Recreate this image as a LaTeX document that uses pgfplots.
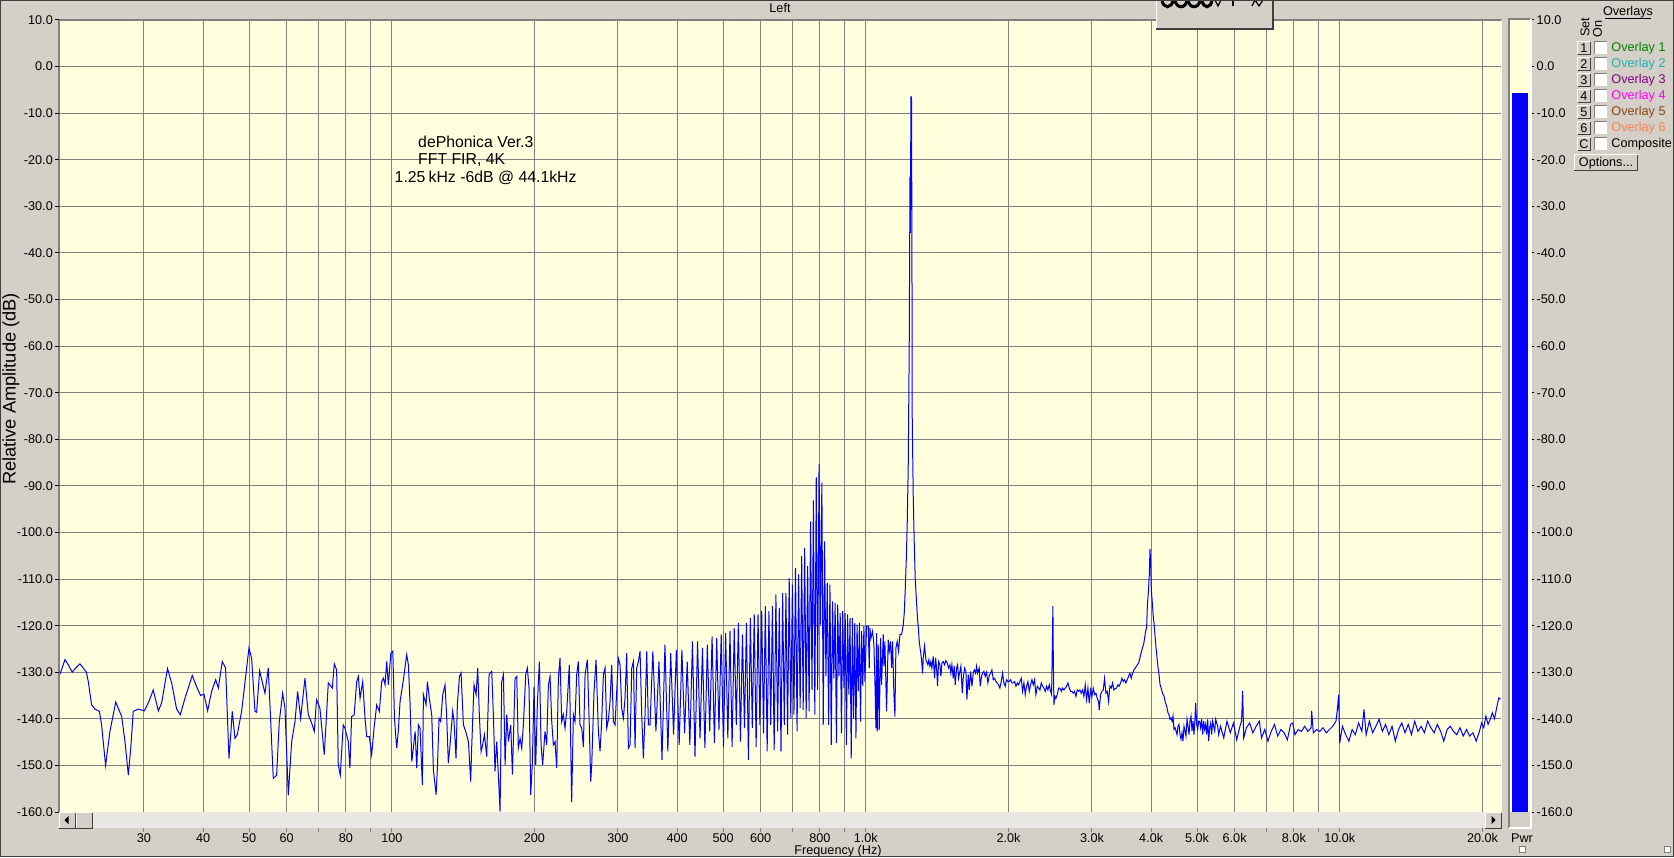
\documentclass[border=0pt]{standalone}
\usepackage{pgfplots}
\pgfplotsset{compat=1.18}
\usepackage{fontspec}
\setmainfont{Liberation Sans}

\definecolor{winbg}{HTML}{D4D0C8}
\definecolor{plotbg}{HTML}{FFFFDD}
\definecolor{gridc}{HTML}{808080}
\definecolor{scrollc}{HTML}{E9E7E3}
\definecolor{shadow}{HTML}{404040}
\definecolor{ov1}{HTML}{008000}
\definecolor{ov2}{HTML}{20B0B0}
\definecolor{ov3}{HTML}{800080}
\definecolor{ov4}{HTML}{FF00FF}
\definecolor{ov5}{HTML}{8B4513}
\definecolor{ov6}{HTML}{FF8050}

\newcommand{\ui}{\fontsize{3.6}{4.3}\selectfont}
\newcommand{\notefont}{\fontsize{4.5}{5.4}\selectfont}
% raised button: x1, ybottom, x2, ytop
\newcommand{\rbtn}[4]{%
  \fill[winbg] (#1,#2) rectangle (#3,#4);
  \draw[white,line width=0.1mm] (#1,#2) -- (#1,#4) -- (#3,#4);
  \draw[shadow,line width=0.1mm] (#3,#4) -- (#3,#2) -- (#1,#2);}

\begin{document}
\begin{tikzpicture}[x=0.1mm,y=0.1mm]
\useasboundingbox (0,0) rectangle (1674,857);
\fill[winbg] (0,0) rectangle (1674,857);

% spectrum
\begin{axis}[
    at={(5.85mm,4.5mm)}, anchor=south west,
    width=144.3mm, height=79.2mm, scale only axis,
    xmode=log, xmin=19.81, xmax=21936,
    ymin=-160, ymax=10,
    axis background/.style={fill=plotbg},
    axis line style={draw=none},
    tick style={draw=none},
    xtick={30,40,50,60,80,100,200,300,400,500,600,800,1000,2000,3000,4000,5000,6000,8000,10000,20000},
    xticklabels={30,40,50,60,80,100,200,300,400,500,600,800,1.0k,2.0k,3.0k,4.0k,5.0k,6.0k,8.0k,10.0k,20.0k},
    minor xtick={70,90,700,900,7000,9000},
    ytick={-160,-150,...,10},
    yticklabels={-160.0,-150.0,-140.0,-130.0,-120.0,-110.0,-100.0,-90.0,-80.0,-70.0,-60.0,-50.0,-40.0,-30.0,-20.0,-10.0,0.0,10.0},
    grid=both,
    major grid style={gridc, line width=0.1mm},
    minor grid style={gridc, line width=0.1mm},
    xticklabel style={font=\ui, anchor=base, inner sep=0pt, yshift=-3mm},
    yticklabel style={font=\ui, anchor=east, inner sep=0pt, xshift=-0.5mm},
  ]
\addplot[blue, line width=0.1mm, mark=none] coordinates {
(19.85,-130.9)(20.05,-129.8)(20.44,-127.3)(20.77,-128.4)(21.18,-130.0)(21.52,-129.1)(21.98,-128.2)(22.33,-129.1)(22.68,-130.0)(22.89,-132.0)
(23.26,-137.0)(23.64,-137.9)(24.16,-138.4)(24.42,-141.3)(24.90,-150.0)(25.43,-142.7)(26.16,-136.4)(26.92,-139.5)(27.36,-144.9)(27.81,-152.1)
(28.17,-145.6)(28.48,-138.4)(29.19,-137.9)(30.05,-138.3)(30.64,-136.6)(31.39,-133.8)(32.17,-138.3)(32.69,-136.6)(33.64,-129.2)(34.32,-132.3)
(35.16,-137.9)(35.79,-139.1)(36.61,-135.6)(37.94,-130.7)(38.75,-133.1)(39.50,-135.0)(40.15,-134.7)(40.87,-138.3)(41.68,-134.1)(42.50,-131.6)
(43.05,-133.4)(43.89,-127.7)(44.61,-129.1)(45.34,-148.5)(45.78,-142.7)(46.07,-138.4)(46.68,-144.2)(47.21,-143.4)(48.21,-138.4)(49.40,-129.1)
(49.96,-124.8)(50.61,-127.0)(51.44,-138.4)(51.86,-138.6)(52.62,-129.7)(54.00,-134.5)(54.88,-129.1)(56.23,-152.8)(57.15,-152.1)(57.89,-140.6)
(58.85,-134.5)(59.51,-137.7)(60.49,-156.4)(61.48,-144.9)(62.48,-140.6)(63.29,-134.1)(64.22,-139.9)(65.59,-131.3)(66.66,-139.1)(67.75,-140.9)
(68.63,-142.7)(69.39,-135.9)(70.53,-137.7)(72.04,-147.7)(73.46,-132.3)(74.90,-133.4)(75.64,-128.2)(76.50,-129.5)(77.11,-149.9)(77.87,-152.1)
(79.00,-141.3)(79.65,-142.0)(80.95,-144.9)(81.58,-150.6)(82.27,-139.5)(83.27,-139.2)
(84.33,-132.0)(85.01,-130.9)(85.71,-135.6)(86.82,-132.0)(87.81,-139.9)(88.52,-143.8)(89.67,-143.8)(90.69,-147.7)(91.73,-142.0)(92.93,-137.0)
(94.14,-138.4)(95.21,-132.0)(95.99,-131.3)(96.77,-132.7)(97.55,-127.7)(98.35,-132.7)(99.53,-125.9)(100.5,-125.5)(101.3,-139.9)(102.4,-146.3)
(103.2,-142.7)(104.1,-136.3)(105.8,-131.6)(107.5,-126.2)(108.4,-128.4)(109.3,-137.0)(110.2,-149.2)(112.0,-142.7)(112.9,-150.6)(113.8,-141.3)
(114.7,-142.0)(116.0,-154.2)(116.6,-134.8)(118.1,-137.0)(118.9,-132.0)(120.0,-135.6)(121.4,-139.1)(122.4,-151.0)(124.0,-156.3)(124.8,-150.6)
(125.8,-139.9)(126.8,-140.6)(128.1,-134.8)(129.5,-132.7)(130.6,-139.9)(131.6,-149.5)(132.7,-145.6)(134.4,-138.4)(135.3,-140.6)(136.6,-148.5)
(137.5,-137.0)(138.9,-130.9)(140.0,-130.2)(141.6,-141.3)(143.2,-142.7)(145.1,-144.9)(146.7,-153.5)(147.4,-146.3)(149.1,-132.7)(150.6,-134.8)
(151.8,-129.1)(153.0,-139.1)(154.3,-147.0)(155.5,-145.6)(156.8,-143.4)(158.6,-148.1)(160.4,-130.5)(162.5,-129.8)(163.8,-139.1)(165.1,-151.3)
(166.5,-144.9)(167.8,-152.0)(169.2,-159.9)(170.6,-132.0)(172.0,-130.5)(173.4,-149.9)(174.8,-139.1)(176.2,-144.9)(178.2,-141.3)(179.7,-152.0)
(182.0,-131.3)(183.5,-130.9)(184.9,-146.3)(186.5,-144.2)(188.0,-146.3)(189.5,-141.3)(191.7,-130.5)(193.2,-129.1)(194.8,-133.4)(196.4,-156.3)
(198.0,-149.2)(199.6,-133.1)(201.2,-149.9)(202.8,-137.0)(204.8,-127.7)(206.5,-145.6)(208.1,-149.9)(210.5,-142.7)(212.2,-145.6)(214.0,-132.7)
(215.7,-130.9)(217.5,-140.6)(219.2,-145.6)(221.0,-144.9)(222.8,-150.6)(224.6,-131.3)(226.4,-127.0)(228.3,-140.6)(230.1,-139.1)(232.0,-142.0)
(233.9,-138.4)(236.9,-128.4)(239.6,-157.8)(241.6,-139.1)(243.5,-140.6)(245.5,-130.5)(247.5,-127.7)(249.5,-141.3)(251.6,-142.0)(253.6,-146.0)
(255.7,-130.5)(258.6,-127.3)(261.1,-142.0)(262.8,-153.5)(264.1,-149.9)(267.1,-134.1)(269.7,-127.3)(272.8,-142.7)(275.0,-147.0)(277.2,-140.6)
(279.5,-130.5)(281.8,-129.1)(284.1,-142.0)(286.4,-140.2)(288.7,-136.3)(291.0,-128.4)(293.4,-140.6)(295.8,-141.3)(298.2,-134.1)(300.6,-127.0)
(303.1,-128.4)(305.5,-137.7)(308.0,-139.9)(310.5,-135.6)(313.0,-125.9)(315.6,-146.3)(318.2,-145.6)(320.8,-129.1)(323.4,-127.7)(326.0,-146.3)
(328.6,-129.1)(331.3,-127.7)(334.0,-125.5)(336.7,-139.1)(339.4,-148.5)(342.2,-139.1)(345.0,-125.5)(347.8,-141.3)(350.6,-141.3)
(355.4,-125.5)(360.8,-142.7)(366.2,-127.7)(371.6,-148.8)(377.0,-124.1)(382.3,-147.0)(387.7,-125.9)(393.1,-143.4)(398.5,-125.2)(403.9,-145.6)
(409.3,-125.2)(414.7,-143.1)(420.0,-127.7)(425.4,-145.6)(430.8,-123.4)(436.2,-148.1)(441.6,-123.4)(447.0,-144.2)(452.3,-124.8)(457.7,-146.3)
(463.1,-124.1)(468.5,-142.7)(473.9,-122.3)(479.3,-145.2)(484.7,-122.7)(490.0,-142.4)(495.4,-121.9)(500.8,-146.0)(506.2,-121.6)(511.6,-144.2)
(517.0,-121.2)(522.3,-146.0)(527.7,-120.5)(533.1,-141.3)(538.5,-119.4)(543.9,-144.9)(549.3,-121.9)(554.7,-142.0)(560.0,-119.4)(565.4,-148.8)
(570.8,-118.4)(576.2,-142.0)(581.6,-117.6)(587.0,-146.0)(592.4,-117.6)(597.7,-141.3)(603.1,-116.9)(608.5,-143.1)(613.9,-115.8)(619.3,-147.0)
(624.7,-116.9)(630.1,-141.3)(635.4,-115.8)(640.8,-146.7)(646.2,-113.3)(651.6,-142.7)(657.0,-116.2)(662.4,-147.0)(667.7,-113.0)(673.1,-141.3)
(678.5,-113.0)(683.9,-143.4)(689.3,-109.8)(694.7,-139.9)(700.1,-111.2)(705.4,-139.1)(710.8,-107.6)(716.2,-142.7)(721.6,-109.0)(727.0,-137.7)
(732.4,-105.1)(737.8,-138.1)(743.1,-103.3)(748.5,-139.9)(753.9,-107.2)(759.3,-138.4)(764.7,-97.6)(770.1,-133.8)(775.4,-93.1)(780.8,-139.1)
(786.2,-88.2)(791.6,-133.8)(797.0,-85.4)(802.4,-119.8)(807.8,-89.3)(813.2,-141.3)(818.5,-101.9)(823.9,-130.9)(829.3,-110.8)(834.7,-141.3)
(840.1,-111.2)(845.5,-145.6)(850.9,-114.8)(856.2,-131.3)(861.6,-115.1)(867.0,-145.2)(872.4,-115.5)(877.8,-130.9)(883.1,-117.3)(888.5,-143.1)
(893.9,-116.9)(899.3,-133.4)(904.7,-117.3)(910.1,-145.6)(915.5,-117.6)(920.9,-134.8)(926.2,-118.4)(931.6,-148.5)(937.0,-118.4)(942.4,-139.9)
(947.8,-119.4)(953.2,-144.2)(958.5,-119.8)(963.9,-134.1)(969.3,-119.4)(974.7,-140.6)(980.1,-121.2)(985.5,-133.0)(990.8,-120.1)
(995.7,-132.0)(1003.8,-120.1)(1011.9,-120.1)(1016.9,-129.1)(1020.2,-120.5)(1025.2,-122.7)(1033.5,-121.2)(1040.2,-124.1)(1045.3,-132.0)(1050.4,-142.0)
(1053.7,-121.6)(1057.1,-142.7)(1062.2,-124.1)(1067.4,-142.4)(1074.4,-122.7)(1079.6,-132.7)(1088.4,-121.9)(1091.9,-128.7)(1097.2,-123.4)(1106.2,-138.4)
(1115.1,-123.0)(1120.6,-125.5)(1127.9,-123.4)(1133.4,-129.1)(1139.0,-123.4)(1146.3,-134.8)(1151.9,-139.5)(1157.4,-124.8)(1165.0,-123.4)(1172.7,-125.5)
(1180.2,-121.9)(1189.8,-121.9)
(1199.5,-119.9)(1205.3,-117.3)(1211.2,-112.2)(1217.1,-106.1)(1223.0,-97.9)(1228.9,-85.8)(1234.9,-59.9)(1239.5,-23.6)(1242.0,-35.7)(1245.0,-6.5)
(1248.5,-6.5)(1251.0,-35.7)(1253.1,-75.9)(1259.2,-92.3)(1265.3,-102.2)(1271.5,-110.0)(1279.8,-115.2)(1286.0,-118.6)(1292.3,-121.2)(1296.4,-123.4)
(1304.8,-125.6)(1311.2,-127.3)(1317.6,-130.3)(1321.9,-126.9)(1330.4,-124.3)(1339.1,-127.3)
(1343.4,-127.7)(1352.1,-128.4)(1358.7,-127.3)(1365.3,-128.7)(1372.0,-127.7)(1378.7,-129.1)(1387.6,-126.6)(1396.7,-131.3)(1403.5,-126.9)(1410.4,-129.1)
(1417.2,-133.0)(1424.2,-127.7)(1433.3,-128.4)(1440.3,-130.9)(1447.4,-128.0)(1456.7,-127.7)(1466.2,-128.4)(1475.7,-127.5)(1485.3,-128.0)(1494.9,-129.1)
(1504.7,-128.4)(1512.0,-130.2)(1519.4,-128.4)(1529.3,-131.3)(1536.7,-128.7)(1544.2,-132.7)(1554.3,-129.1)(1561.9,-128.4)(1569.5,-131.3)(1579.6,-129.8)
(1587.3,-128.7)(1597.6,-134.5)(1605.4,-131.3)(1615.9,-129.1)(1626.4,-129.8)(1634.3,-135.9)(1645.0,-130.5)(1653.0,-133.8)(1663.7,-129.8)(1674.6,-133.0)
(1685.4,-130.2)(1693.6,-129.5)(1704.6,-130.2)(1712.8,-128.7)(1721.2,-130.2)(1735.0,-129.1)(1743.6,-133.0)(1754.9,-130.9)(1763.5,-130.2)(1774.9,-129.8)
(1786.5,-130.9)(1798.1,-130.0)(1809.8,-132.3)(1821.6,-130.7)(1833.4,-130.2)(1845.3,-129.5)(1857.2,-131.6)(1869.3,-131.3)(1881.4,-132.0)(1893.6,-132.3)
(1905.9,-132.7)(1918.3,-133.4)(1930.9,-132.0)(1943.4,-130.2)(1956.0,-132.3)(1968.6,-133.0)(1981.4,-131.6)(1994.2,-132.0)(2007.3,-132.0)(2020.4,-131.6)
(2033.6,-132.3)(2046.8,-132.3)(2060.0,-132.0)(2073.5,-133.0)(2087.0,-132.3)(2100.5,-132.7)(2114.2,-132.0)(2127.9,-131.3)(2141.8,-134.1)(2155.6,-132.3)
(2169.7,-134.8)(2183.7,-133.0)(2197.9,-132.0)(2212.1,-134.1)(2226.5,-132.7)(2241.0,-131.6)(2255.6,-132.7)(2270.3,-131.6)(2285.0,-134.8)(2299.9,-133.0)
(2314.8,-133.4)(2329.9,-133.8)(2345.0,-132.3)(2360.4,-133.0)(2375.5,-133.4)(2391.1,-134.1)(2406.6,-133.0)(2422.2,-133.8)(2438.0,-132.7)(2453.8,-134.1)
(2465.8,-134.8)(2473.8,-125.5)(2481.8,-115.8)(2485.8,-125.5)(2493.8,-137.0)(2506.0,-135.2)(2518.2,-135.6)(2534.6,-134.8)(2551.1,-133.4)(2567.6,-133.4)
(2584.3,-134.1)(2601.0,-133.4)(2617.9,-133.8)(2634.9,-133.4)(2652.0,-133.0)(2669.5,-132.3)(2686.6,-133.4)(2704.0,-134.1)(2721.7,-134.1)(2739.3,-134.5)
(2757.1,-134.1)(2775.0,-135.2)(2793.1,-133.8)(2811.4,-134.1)(2829.6,-133.8)(2848.0,-134.5)(2866.5,-133.8)(2885.2,-135.2)(2903.9,-132.7)(2922.9,-135.9)
(2941.8,-133.4)(2961.0,-136.6)(2980.2,-133.8)(2999.6,-135.2)(3018.9,-133.4)(3038.5,-134.8)(3058.2,-134.5)(3078.1,-135.6)(3098.2,-136.3)(3108.2,-138.1)
(3128.4,-134.8)(3148.7,-134.1)(3169.2,-133.8)(3189.8,-131.3)(3210.6,-134.5)(3231.4,-134.1)(3252.4,-136.3)(3273.5,-133.0)(3294.8,-133.4)(3316.2,-132.3)
(3337.8,-133.8)(3359.5,-133.5)(3381.3,-133.4)(3403.3,-132.7)(3425.4,-133.0)(3447.7,-132.3)(3470.1,-131.3)(3492.6,-132.0)(3515.3,-131.6)(3538.2,-132.3)
(3561.0,-131.6)(3584.3,-130.9)(3607.5,-130.2)(3631.0,-131.3)(3654.6,-130.2)(3678.5,-129.5)(3702.3,-129.1)
(3746.3,-128.3)(3764.6,-128.0)(3782.6,-127.2)(3801.3,-126.2)(3819.6,-125.4)(3838.3,-124.6)(3857.0,-124.0)(3875.7,-122.6)(3894.7,-121.2)(3913.5,-120.4)
(3926.3,-115.8)(3945.4,-112.9)(3964.9,-109.0)(3977.5,-103.6)(3990.2,-106.5)(4003.4,-112.5)(4016.5,-114.3)(4029.2,-116.1)(4042.3,-118.3)(4055.4,-119.4)
(4075.3,-122.2)(4095.2,-124.7)(4115.1,-126.9)(4135.4,-129.0)(4155.3,-130.5)(4175.6,-132.6)(4195.9,-133.3)(4216.2,-134.1)(4236.9,-134.8)(4257.5,-135.1)
(4278.2,-136.2)(4299.3,-136.9)(4319.5,-137.6)(4340.6,-138.7)(4361.8,-139.1)(4382.9,-140.1)(4404.4,-139.8)(4426.0,-140.5)(4447.2,-139.4)(4469.1,-142.3)
(4490.7,-141.9)(4512.7,-142.6)(4534.7,-143.4)(4556.7,-141.6)(4579.1,-141.2)(4601.1,-143.4)(4623.5,-144.4)(4646.4,-143.0)(4668.8,-144.8)(4691.3,-141.6)
(4714.2,-142.6)(4737.1,-143.7)(4760.5,-140.1)(4783.4,-141.6)(4806.8,-143.4)(4830.2,-140.5)(4854.0,-139.4)(4877.4,-142.6)(4901.2,-140.5)(4925.1,-143.4)
(4948.9,-139.8)(4965.3,-136.6)(4989.1,-141.2)(5013.5,-142.3)(5038.2,-140.5)(5062.6,-140.5)(5087.0,-141.9)(5111.9,-140.1)(5136.7,-143.4)(5162.1,-140.5)
(5186.9,-142.3)(5212.3,-141.2)(5237.7,-143.4)(5263.5,-140.1)(5288.8,-144.8)(5314.7,-141.9)(5340.6,-140.9)(5366.4,-143.4)(5392.8,-140.5)(5419.2,-141.6)
(5445.5,-142.6)(5471.9,-140.1)(5498.3,-140.9)(5525.2,-141.6)(5552.2,-143.4)
(5602,-141.6)(5691,-144.1)(5781,-140.5)(5874,-143.0)(5967,-140.9)(6061,-144.5)(6157,-141.6)(6206,-140.5)(6238,-134.0)(6271,-144.1)
(6354,-141.9)(6454,-140.9)(6556,-143.0)(6660,-141.6)(6766,-140.5)(6837,-144.1)(6945,-142.3)(7056,-144.8)(7167,-142.7)(7281,-141.2)
(7396,-143.7)(7513,-142.3)(7632,-143.0)(7753,-144.5)(7876,-141.2)(7959,-140.9)(8043,-143.4)(8171,-142.3)(8300,-142.7)(8431,-141.6)
(8565,-142.7)(8701,-141.9)(8723,-138.3)(8792,-143.0)(8932,-142.3)(9073,-142.7)(9217,-141.9)(9363,-143.0)(9511,-142.3)(9662,-141.6)
(9816,-140.5)(9892,-137.6)(9944,-134.8)(9996,-145.2)(10128,-141.6)(10288,-143.4)(10452,-144.8)(10617,-142.3)(10785,-143.4)(10956,-140.9)
(11130,-142.7)(11247,-138.0)(11365,-143.4)(11546,-140.5)(11729,-143.0)(11915,-141.6)(12104,-140.1)(12295,-142.7)(12490,-141.2)(12688,-143.4)
(12889,-141.6)(13094,-144.8)(13301,-142.3)(13512,-140.9)(13726,-143.0)(13944,-141.2)(14165,-143.4)(14389,-140.5)(14617,-142.7)(14849,-141.6)
(15084,-143.0)(15323,-140.5)(15566,-141.9)(15812,-143.0)(16063,-141.2)(16317,-142.7)(16576,-144.8)(16839,-142.3)(17105,-141.6)(17376,-142.7)
(17651,-143.4)(17931,-141.9)(18215,-143.7)(18504,-142.3)(18797,-143.7)(19095,-143.0)(19398,-144.8)(19706,-142.7)(19913,-140.9)(20123,-141.9)
(20335,-139.4)(20549,-141.2)(20766,-140.1)(20985,-138.7)(21206,-140.0)(21429,-137.6)(21654,-135.5)(21825,-135.8)
};
\end{axis}

% outside tick marks under the frequency axis
\begin{axis}[
    at={(5.85mm,4.5mm)}, anchor=south west,
    width=144.3mm, height=79.2mm, scale only axis,
    xmode=log, xmin=19.81, xmax=21936, ymin=-160, ymax=10,
    axis line style={draw=none},
    xtick={30,40,50,60,80,100,200,300,400,500,600,800,1000,2000,3000,4000,5000,6000,8000,10000,20000},
    minor xtick={70,90,700,900,7000,9000},
    xticklabels={}, ytick=\empty,
    xtick pos=bottom, tick align=outside,
    major tick length=2mm, minor tick length=2mm,
    tick style={gridc, line width=0.1mm},
  ]
\end{axis}

% level meter
\begin{axis}[
    at={(151.0mm,4.5mm)}, anchor=south west,
    width=2mm, height=79.2mm, scale only axis,
    xmin=0, xmax=1, ymin=-160, ymax=10,
    axis background/.style={fill=plotbg},
    axis line style={draw=none},
    xtick=\empty,
    ytick={-160,-150,...,10},
    yticklabels={-160.0,-150.0,-140.0,-130.0,-120.0,-110.0,-100.0,-90.0,-80.0,-70.0,-60.0,-50.0,-40.0,-30.0,-20.0,-10.0,0.0,10.0},
    ytick pos=right, tick align=outside, major tick length=0.4mm,
    tick style={black, line width=0.1mm},
    yticklabel style={font=\ui, anchor=west, inner sep=0pt, xshift=0.2mm},
  ]
\addplot[fill=blue, draw=none] coordinates {(0.1,-160) (0.1,-5.7) (0.9,-5.7) (0.9,-160)} -- cycle;
\end{axis}

% frames
\draw[gridc, line width=0.2mm] (58.5,45) -- (58.5,837.2) -- (1501.5,837.2);
\draw[white, line width=0.15mm] (1501.5,837.2) -- (1501.5,45);
\foreach \k in {0,...,17} \draw[black, line width=0.1mm] (55,{45+\k*46.588}) -- (58.5,{45+\k*46.588});
\fill[winbg] (1510,44.7) rectangle (1530,30);
\draw[gridc, line width=0.2mm] (1509,29) -- (1509,838) -- (1531,838);
\draw[white, line width=0.15mm] (1531,838) -- (1531,29) -- (1509,29);

% scrollbar
\fill[scrollc] (58.5,44.7) rectangle (1501.5,29);
\rbtn{59}{29}{75}{44.5}
\fill[black] (64.5,37) -- (68.5,41) -- (68.5,33) -- cycle;
\rbtn{76}{29}{92}{44.5}
\rbtn{1485}{29}{1501}{44.5}
\fill[black] (1495.5,37) -- (1491.5,41) -- (1491.5,33) -- cycle;

% texts
\node[font=\ui] at (780,848.5) {Left};
\node[font=\ui] at (838,6) {Frequency (Hz)};
\node[font=\fontsize{5.2}{6}\selectfont, rotate=90] at (11,468) {Relative Amplitude (dB)};
\node[font=\ui] at (1522,19) {Pwr};
\draw[gridc, fill=white, line width=0.08mm] (1519,5) rectangle (1525,11);
\draw[gridc, fill=white, line width=0.08mm] (1664,5) rectangle (1670,11);

\node[font=\notefont, anchor=west, inner sep=0pt] at (417.5,715) {dePhonica Ver.3};
\node[font=\notefont, anchor=west, inner sep=0pt] at (417.5,697) {FFT FIR, 4K};
\node[font=\notefont, anchor=west, inner sep=0pt] at (394,679) {1.25\kern0.9pt kHz -6dB @ 44.1kHz};

% small waveform widget at the top
\fill[winbg] (1156,857) rectangle (1274,828);
\draw[white, line width=0.15mm] (1156.5,857) -- (1156.5,828.5);
\draw[shadow, line width=0.2mm] (1156,828) -- (1273,828) -- (1273,857);
\foreach \a/\b in {1162/1173, 1175/1187, 1188/1200, 1202/1212}
  \draw[black, line width=0.3mm] (\a,857) .. controls (\a+1,848) and (\b-1,848) .. (\b,857);
\draw[black, line width=0.12mm] (1215,857) -- (1218,851) -- (1221,857);
\draw[black, line width=0.12mm] (1233,857) -- (1233,851);
\draw[black, line width=0.12mm] (1252,851) -- (1255,857) -- (1259,851) -- (1263,857);

% overlays panel
\node[font=\ui, anchor=base] at (1628,841.5) {Overlays};
\draw[black, line width=0.08mm] (1605,838.8) -- (1651,838.8);
\node[font=\ui, rotate=90] at (1585,829.5) {Set};
\node[font=\ui, rotate=90] at (1597.5,828) {On};
\foreach \i/\t/\c/\n in {0/1/ov1/Overlay 1, 1/2/ov2/Overlay 2, 2/3/ov3/Overlay 3, 3/4/ov4/Overlay 4, 4/5/ov5/Overlay 5, 5/6/ov6/Overlay 6, 6/C/black/Composite} {
  \pgfmathsetmacro{\yt}{815.3-16*\i}
  \pgfmathsetmacro{\yb}{\yt-12.6}
  \rbtn{1577.7}{\yb}{1590}{\yt}
  \node[font=\ui] at (1583.9,\yt-6.3) {\t};
  \fill[white] (1594.3,\yb) rectangle (1606.7,\yt);
  \draw[gridc, line width=0.1mm] (1594.3,\yb) -- (1594.3,\yt) -- (1606.7,\yt);
  \node[font=\ui, text=\c, anchor=west, inner sep=0pt] at (1610.7,\yt-6.3) {\n};
}
\rbtn{1574.3}{686}{1637.7}{702}
\node[font=\ui] at (1606,694) {Options...};

\draw[shadow, line width=0.15mm] (0.5,0.5) rectangle (1673.5,856.5);
\end{tikzpicture}
\end{document}
